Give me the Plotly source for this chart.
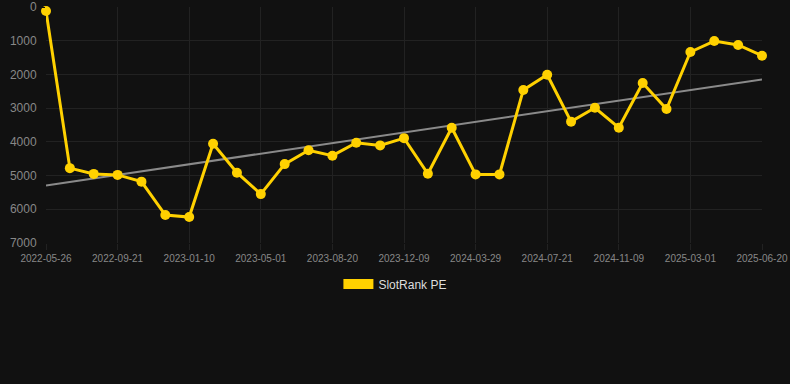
import numpy as np
import plotly.graph_objects as go

dates = ["2022-05-26", "2022-07-04", "2022-08-13", "2022-09-21", "2022-10-28", "2022-12-04",
         "2023-01-10", "2023-02-16", "2023-03-25", "2023-05-01", "2023-06-07", "2023-07-14",
         "2023-08-20", "2023-09-26", "2023-11-02", "2023-12-09", "2024-01-15", "2024-02-21",
         "2024-03-29", "2024-05-06", "2024-06-13", "2024-07-21", "2024-08-27", "2024-10-03",
         "2024-11-09", "2024-12-16", "2025-01-22", "2025-03-01", "2025-04-07", "2025-05-14",
         "2025-06-20"]
ranks = [120, 4780, 4950, 4980, 5180, 6170, 6230, 4055, 4915, 5550, 4660, 4250,
         4410, 4025, 4105, 3890, 4945, 3580, 4965, 4965, 2460, 2010, 3400, 2990,
         3580, 2255, 3025, 1335, 1010, 1125, 1445]
tick_dates = dates[::3]
y_ticks = [0, 1000, 2000, 3000, 4000, 5000, 6000, 7000]

idx = np.arange(len(ranks))
slope, intercept = np.polyfit(idx, ranks, 1)
trend = slope * idx + intercept

gold = "#FFD100"
fig = go.Figure()
fig.add_trace(go.Scatter(x=dates, y=trend, mode="lines",
                         line=dict(color="#8a8a8a", width=2),
                         showlegend=False, hoverinfo="skip"))
fig.add_trace(go.Scatter(x=dates, y=ranks, mode="lines+markers",
                         line=dict(color=gold, width=3),
                         marker=dict(color=gold, size=10),
                         showlegend=False, cliponaxis=False))
fig.add_trace(go.Scatter(x=[None], y=[None], mode="lines",
                         line=dict(color=gold, width=12),
                         name="SlotRank PE", showlegend=True))

grid = "#222222"
fig.update_layout(
    width=790, height=384,
    paper_bgcolor="#111111", plot_bgcolor="#111111",
    margin=dict(l=46, r=28, t=7, b=141),
    font=dict(family="Liberation Sans, Arial, sans-serif", color="#888888"),
    legend=dict(orientation="h", x=0.488, xanchor="center", y=-0.174, yanchor="middle",
                font=dict(size=12, color="#dddddd"), bgcolor="rgba(0,0,0,0)"),
    xaxis=dict(type="category", range=[0, len(dates) - 1],
               tickmode="array", tickvals=tick_dates, ticktext=tick_dates,
               tickangle=0, tickfont=dict(size=10, color="#888888"),
               showgrid=True, gridcolor=grid, gridwidth=1,
               ticks="outside", ticklen=6, tickcolor=grid,
               showline=False, zeroline=False, automargin=False),
    yaxis=dict(range=[7000, 0], tickmode="array", tickvals=y_ticks,
               tickfont=dict(size=12, color="#888888"),
               showgrid=True, gridcolor=grid, gridwidth=1,
               ticks="outside", ticklen=6, tickcolor="#111111",
               showline=False, zeroline=False, automargin=False),
)
fig.write_html("out.html", config={"displayModeBar": False},
               post_script="document.body.style.margin='0';document.body.style.background='#111111';")
